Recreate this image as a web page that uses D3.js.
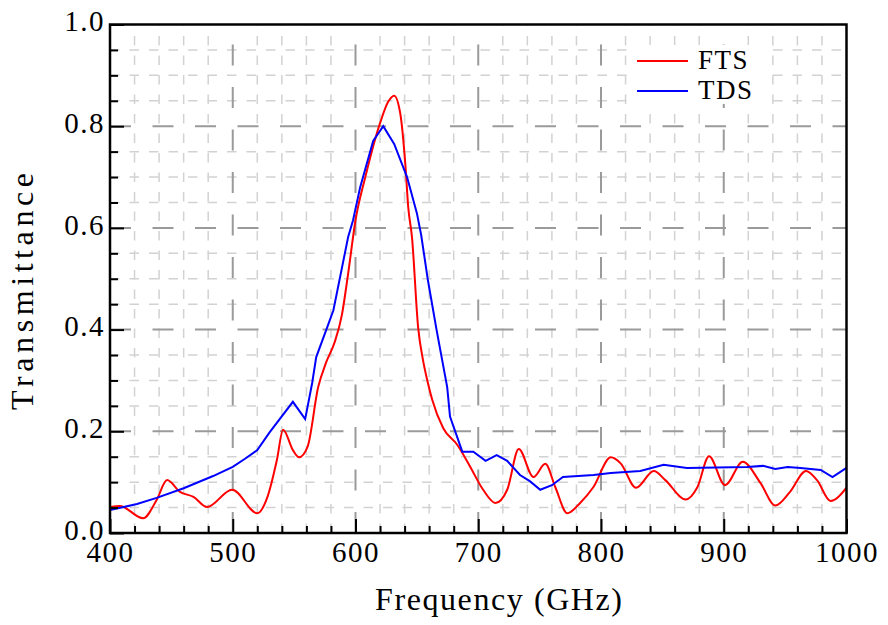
<!DOCTYPE html>
<html>
<head>
<meta charset="utf-8">
<script src="https://cdn.jsdelivr.net/npm/d3@7"></script>
<style>
  html, body { margin: 0; padding: 0; background: #fff; }
  svg { display: block; }
  text { font-family: "Liberation Serif", "Times New Roman", serif; fill: #000; }
</style>
</head>
<body>
<script>
// ---------------- data ----------------
const ftsFreq = [400, 408, 427, 438, 446.5, 457, 468, 479, 499.5, 520, 528, 536, 541, 549, 554, 561,
  569.6, 576, 583, 589, 594, 600, 608, 620, 626.6, 631.5, 636.4, 640.5, 643, 646, 651, 655, 659,
  662.5, 671.5, 683, 693.5, 704, 714, 723.6, 733, 745, 754.6, 762.8, 772.5, 783, 793.7, 808, 816,
  828.5, 843, 852.4, 869, 878.5, 888, 901, 915.5, 930, 942, 954, 967, 976, 987, 1000];
const ftsValue = [0.051, 0.053, 0.029, 0.065, 0.104, 0.081, 0.071, 0.051, 0.085, 0.039, 0.069, 0.144,
  0.203, 0.163, 0.149, 0.170, 0.287, 0.335, 0.375, 0.430, 0.510, 0.615, 0.700, 0.806, 0.848, 0.860,
  0.826, 0.728, 0.640, 0.582, 0.405, 0.340, 0.295, 0.262, 0.206, 0.173, 0.130, 0.085, 0.059, 0.085,
  0.165, 0.110, 0.136, 0.090, 0.039, 0.059, 0.090, 0.149, 0.137, 0.089, 0.122, 0.104, 0.066, 0.090,
  0.151, 0.094, 0.140, 0.098, 0.054, 0.081, 0.122, 0.104, 0.063, 0.089];

const tdsFreq = [400, 422, 438, 460, 484, 500, 510, 520, 530, 549, 559, 564.7, 568, 577, 582, 594, 598,
  603.8, 614.4, 622.6, 631.5, 642, 650, 653.5, 659, 666, 674.7, 677, 687, 696, 706, 715, 723.6, 734,
  742, 750.5, 760, 769, 794, 808, 832, 851, 870, 919, 932, 942, 952, 962.5, 979, 988.6, 1000];
const tdsValue = [0.045, 0.057, 0.069, 0.088, 0.112, 0.130, 0.146, 0.163, 0.198, 0.258, 0.224, 0.295, 0.346,
  0.405, 0.438, 0.582, 0.615, 0.680, 0.771, 0.800, 0.765, 0.700, 0.629, 0.586, 0.497, 0.400, 0.287,
  0.229, 0.160, 0.160, 0.142, 0.153, 0.142, 0.114, 0.102, 0.085, 0.094, 0.110, 0.114, 0.118, 0.122,
  0.134, 0.128, 0.130, 0.132, 0.126, 0.130, 0.128, 0.124, 0.110, 0.128];

const seriesNames = ["FTS", "TDS"];
const seriesColors = ["#ff0000", "#0000ff"];

const xMajorTicks = [400, 500, 600, 700, 800, 900, 1000];
const xMinorTicks = d3.range(400, 1001, 20).filter(v => v % 100 !== 0);
const yMajorTicks = [0.0, 0.2, 0.4, 0.6, 0.8, 1.0];
const yMinorTicks = d3.range(0, 21).map(i => i * 0.05).filter((v, i) => i % 4 !== 0);

const xTitle = "Frequency (GHz)";
const yTitle = "Transmittance";

// ---------------- layout ----------------
const W = 888, H = 625;
const L = 110, R = 846.5, T = 24.5, B = 533;

const svg = d3.select("body").append("svg").attr("width", W).attr("height", H);

const x = d3.scaleLinear().domain([400, 1000]).range([L, R]);
const y = d3.scaleLinear().domain([0, 1]).range([B, T]);

svg.append("defs").append("clipPath").attr("id", "clip")
  .append("rect").attr("x", L).attr("y", T).attr("width", R - L).attr("height", B - T);

// ---------------- grid ----------------
const grid = svg.append("g");
grid.selectAll("line.vmin").data(xMinorTicks).join("line")
  .attr("x1", d => x(d)).attr("x2", d => x(d)).attr("y1", B).attr("y2", T)
  .attr("stroke", "#d2d2d2").attr("stroke-width", 1.5).attr("stroke-dasharray", "9.5,10");
grid.selectAll("line.hmin").data(yMinorTicks).join("line")
  .attr("x1", L).attr("x2", R).attr("y1", d => y(d)).attr("y2", d => y(d))
  .attr("stroke", "#d2d2d2").attr("stroke-width", 1.5).attr("stroke-dasharray", "9.5,10");
grid.selectAll("line.vmaj").data(xMajorTicks.slice(1, -1)).join("line")
  .attr("x1", d => x(d)).attr("x2", d => x(d)).attr("y1", B).attr("y2", T)
  .attr("stroke", "#9a9a9a").attr("stroke-width", 2).attr("stroke-dasharray", "21,21.5");
grid.selectAll("line.hmaj").data(yMajorTicks.slice(1, -1)).join("line")
  .attr("x1", L).attr("x2", R).attr("y1", d => y(d)).attr("y2", d => y(d))
  .attr("stroke", "#9a9a9a").attr("stroke-width", 2).attr("stroke-dasharray", "21,21.5");

// ---------------- lines ----------------
const plot = svg.append("g").attr("clip-path", "url(#clip)");
const fts = ftsFreq.map((f, i) => [f, ftsValue[i]]);
const tds = tdsFreq.map((f, i) => [f, tdsValue[i]]);

plot.append("path").datum(fts)
  .attr("fill", "none").attr("stroke", seriesColors[0]).attr("stroke-width", 2)
  .attr("d", d3.line().x(d => x(d[0])).y(d => y(d[1])).curve(d3.curveMonotoneX));
plot.append("path").datum(tds)
  .attr("fill", "none").attr("stroke", seriesColors[1]).attr("stroke-width", 2)
  .attr("d", d3.line().x(d => x(d[0])).y(d => y(d[1])));

// ---------------- legend ----------------
const lg = svg.append("g");
lg.append("rect").attr("x", 627).attr("y", 45).attr("width", 137).attr("height", 59)
  .attr("fill", "#fff");
seriesNames.forEach((n, i) => {
  const yy = 61 + i * 30;
  lg.append("line").attr("x1", 637).attr("x2", 688).attr("y1", yy).attr("y2", yy)
    .attr("stroke", seriesColors[i]).attr("stroke-width", 2);
  lg.append("text").attr("x", 698).attr("y", yy + 8).attr("font-size", 27)
    .attr("letter-spacing", 1.5).text(n);
});

// ---------------- axes ----------------
svg.append("g").attr("transform", `translate(0,${B})`)
  .call(d3.axisBottom(x).tickValues(xMajorTicks).tickSizeInner(-14).tickSizeOuter(0)
    .tickPadding(8).tickFormat(d3.format("d")));
svg.append("g").attr("transform", `translate(0,${B})`)
  .call(d3.axisBottom(x).tickValues(xMinorTicks).tickSizeInner(-7).tickSizeOuter(0).tickFormat(""));
const yAxis = svg.append("g").attr("transform", `translate(${L},0)`)
  .call(d3.axisLeft(y).tickValues(yMajorTicks).tickSizeInner(-14).tickSizeOuter(0)
    .tickPadding(5).tickFormat(d3.format(".1f")));
svg.append("g").attr("transform", `translate(${L},0)`)
  .call(d3.axisLeft(y).tickValues(yMinorTicks).tickSizeInner(-8).tickSizeOuter(0).tickFormat(""));

svg.selectAll(".domain").remove();
svg.selectAll(".tick line").attr("stroke", "#000").attr("stroke-width", 2);
svg.selectAll(".tick text").attr("font-size", 29).attr("letter-spacing", 1.5)
  .style("font-family", '"Liberation Serif", serif').attr("fill", "#000");
yAxis.selectAll(".tick text").attr("dy", "0.22em");

// frame
svg.append("rect").attr("x", L).attr("y", T).attr("width", R - L).attr("height", B - T)
  .attr("fill", "none").attr("stroke", "#000").attr("stroke-width", 2.5);

// ---------------- titles ----------------
svg.append("text").attr("x", (375 + 622) / 2).attr("y", 610).attr("text-anchor", "middle")
  .attr("font-size", 32).attr("textLength", 247).attr("lengthAdjust", "spacing").text(xTitle);
svg.append("text").attr("transform", `translate(33,291.5) rotate(-90)`).attr("text-anchor", "middle")
  .attr("font-size", 32).attr("textLength", 237).attr("lengthAdjust", "spacing").text(yTitle);
</script>
</body>
</html>
